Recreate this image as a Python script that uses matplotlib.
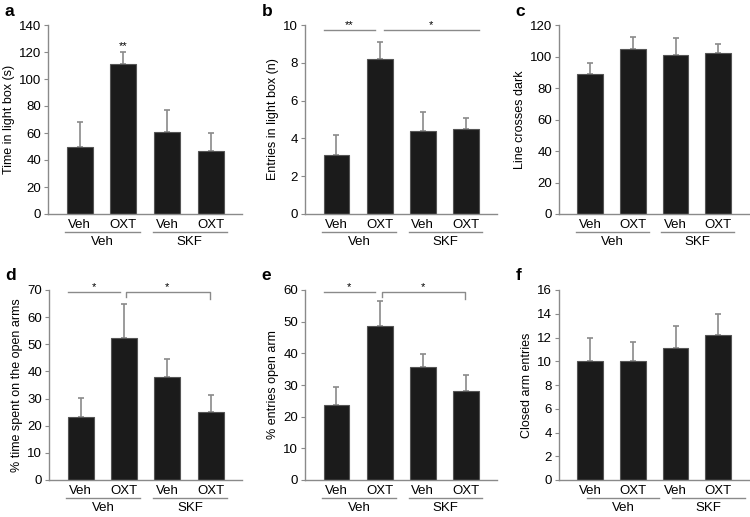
import numpy as np
import matplotlib.pyplot as plt
from matplotlib.transforms import blended_transform_factory

plt.rcParams["font.family"] = ["Liberation Sans", "DejaVu Sans"]

CONDITIONS = ["Veh", "OXT", "Veh", "OXT"]
GROUPS = ["Veh", "SKF"]

# panel data: mean and upward error
time_light = [50, 111, 61, 47]
time_light_err = [18, 9, 16, 13]
entries_light = [3.1, 8.2, 4.4, 4.5]
entries_light_err = [1.1, 0.9, 1.0, 0.6]
line_cross = [89, 105, 101, 102]
line_cross_err = [7, 7.5, 10.5, 6]
pct_time_open = [23.2, 52.2, 38.0, 25.2]
pct_time_open_err = [7.0, 12.5, 6.7, 6.2]
pct_entries_open = [23.6, 48.7, 35.8, 28.0]
pct_entries_open_err = [5.8, 7.9, 4.1, 5.2]
closed_entries = [10.0, 10.0, 11.1, 12.2]
closed_entries_err = [2.0, 1.6, 1.9, 1.8]

GRAY = "#8a8a8a"
BAR = "#1b1b1b"

panels = [
    # letter, values, err, ylabel, ymax, ystep, axes box (px), sig, underline shift
    ("a", time_light, time_light_err, "Time in light box (s)", 140, 20,
     (48, 25, 242, 214), "a", 0.0),
    ("b", entries_light, entries_light_err, "Entries in light box (n)", 10, 2,
     (305, 25, 497, 214), "b", 0.0),
    ("c", line_cross, line_cross_err, "Line crosses dark", 120, 20,
     (559, 25, 749, 214), None, 0.0),
    ("d", pct_time_open, pct_time_open_err, "% time spent on the open arms", 70, 10,
     (49, 290, 242, 480), "d", 0.0),
    ("e", pct_entries_open, pct_entries_open_err, "% entries open arm", 60, 10,
     (305, 290, 497, 480), "d", 0.0),
    ("f", closed_entries, closed_entries_err, "Closed arm entries", 16, 2,
     (559, 290, 749, 480), None, 0.25),
]

W, H = 750, 517
fig = plt.figure(figsize=(W / 100, H / 100), dpi=100)

for letter, vals, errs, ylab, ymax, ystep, box, sig, shift in panels:
    x0, y0, x1, y1 = box
    ax = fig.add_axes([x0 / W, 1 - y1 / H, (x1 - x0) / W, (y1 - y0) / H])
    x = np.arange(len(vals))
    ax.bar(x, vals, width=0.6, color=BAR, edgecolor="#555555", linewidth=0.8, zorder=2)
    ax.errorbar(x, vals, yerr=[np.zeros(len(errs)), errs], fmt="none",
                ecolor=GRAY, elinewidth=1.2, capsize=2.2, capthick=1.2, zorder=1)
    ax.set_xlim(-0.73, 3.72)
    ax.set_ylim(0, ymax)
    ax.set_yticks(np.arange(0, ymax + ystep / 2, ystep))
    ax.set_xticks([])
    for s in ["top", "right"]:
        ax.spines[s].set_visible(False)
    for s in ["left", "bottom"]:
        ax.spines[s].set_color(GRAY)
        ax.spines[s].set_linewidth(1.0)
    ax.tick_params(axis="y", direction="out", length=3, color=GRAY,
                   labelsize=9.5, pad=2)
    ax.set_ylabel(ylab, fontsize=9, labelpad=3)

    tr = blended_transform_factory(ax.transData, ax.transAxes)
    for i, c in enumerate(CONDITIONS):
        ax.text(i, -0.06, c, transform=tr, ha="center", va="center", fontsize=9.5)
    for g, name in enumerate(GROUPS):
        lo = 2 * g - 0.33 + shift
        hi = 2 * g + 1 + 0.37 + shift
        ax.plot([lo, hi], [-0.097, -0.097], transform=tr, color=GRAY,
                lw=1.0, clip_on=False)
        ax.text((lo + hi) / 2, -0.148, name, transform=tr, ha="center",
                va="center", fontsize=9.5)

    ax.text(x0 / W - 0.058, 1 - (y0 - 14) / H, letter, transform=fig.transFigure,
            fontsize=12.5, fontweight="bold", ha="left", va="center")

    if letter == "a":
        ax.text(1, vals[1] + errs[1] + 1, "**", ha="center", va="bottom", fontsize=8)
    elif sig == "b":
        yl = ymax * 0.975
        ax.plot([-0.3, 0.9], [yl, yl], color=GRAY, lw=1.0, clip_on=False)
        ax.plot([1.1, 3.3], [yl, yl], color=GRAY, lw=1.0, clip_on=False)
        ax.text(0.3, yl, "**", ha="center", va="bottom", fontsize=8)
        ax.text(2.2, yl, "*", ha="center", va="bottom", fontsize=8)
    elif sig == "d":
        yl = ymax * 0.99
        ax.plot([-0.3, 0.9], [yl, yl], color=GRAY, lw=1.0, clip_on=False)
        drop = ymax * 0.035
        ax.plot([1.05, 1.05, 2.98, 2.98], [yl - drop * 0.7, yl, yl, yl - drop],
                color=GRAY, lw=1.0, clip_on=False)
        ax.text(0.3, yl, "*", ha="center", va="bottom", fontsize=8)
        ax.text(2.0, yl, "*", ha="center", va="bottom", fontsize=8)

fig.savefig("out.png", dpi=100)
